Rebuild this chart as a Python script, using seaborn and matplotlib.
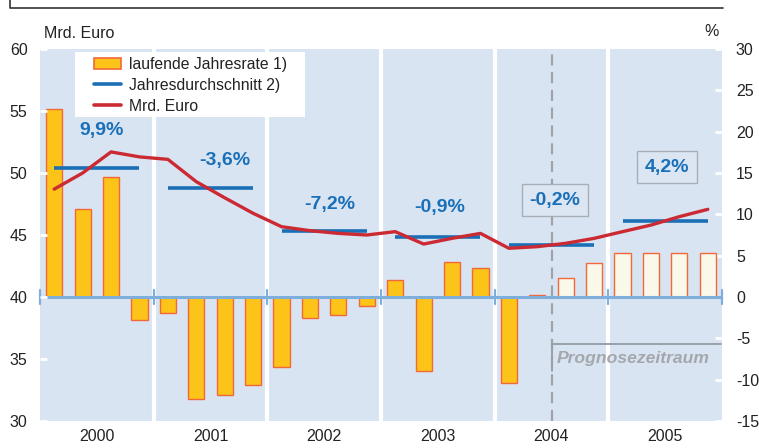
import matplotlib
matplotlib.use("Agg")
import matplotlib.pyplot as plt
import seaborn as sns
import pandas as pd
import numpy as np
from matplotlib.patches import Patch, Rectangle
from matplotlib.lines import Line2D

# ---- data ----
years = ["2000", "2001", "2002", "2003", "2004", "2005"]
rate_pct = [22.7, 10.6, 14.5, -2.8,
            -1.9, -12.3, -11.9, -10.6,
            -8.5, -2.5, -2.2, -1.1,
            2.1, -8.9, 4.2, 3.5,
            -10.4, 0.3, 2.3, 4.1,
            5.3, 5.3, 5.3, 5.3]
mrd_euro = [48.7, 50.0, 51.7, 51.3,
            51.1, 49.3, 48.0, 46.75,
            45.67, 45.35, 45.13, 45.0,
            45.27, 44.27, 44.73, 45.13,
            43.93, 44.06, 44.33, 44.73,
            45.27, 45.8, 46.48, 47.07]
year_avg = [50.43, 48.8, 45.3, 44.87, 44.17, 46.15]
year_change = ["9,9%", "-3,6%", "-7,2%", "-0,9%", "-0,2%", "4,2%"]
n_actual = 18  # quarters before forecast period

df = pd.DataFrame({
    "q": np.arange(len(rate_pct)),
    "pct": rate_pct,
    "mrd": mrd_euro,
    "typ": ["Ist"] * n_actual + ["Prognose"] * (len(rate_pct) - n_actual),
})

sns.set_style("white")
plt.rcParams["font.family"] = ["Liberation Sans", "DejaVu Sans"]
plt.rcParams["axes.unicode_minus"] = False

W, H = 759, 448
fig = plt.figure(figsize=(W / 100, H / 100), dpi=100)
fig.patch.set_facecolor("white")
ax = fig.add_axes([40 / W, 1 - 421 / H, 682 / W, 372 / H])
ax.set_facecolor("#d9e4f3")

# bars (percent scale)
sns.barplot(data=df, x="q", y="pct", hue="typ",
            palette={"Ist": "#fcc419", "Prognose": "#faf8e8"}, saturation=1,
            dodge=False, width=0.57, edgecolor="#f2683a", linewidth=1.0,
            ax=ax, legend=False, zorder=3)
ax.set_ylim(-15, 30)
ax.set_xlim(-0.5, 23.5)

# year separators
for b in [3.5, 7.5, 11.5, 15.5, 19.5]:
    ax.axvline(b, color="white", lw=3, zorder=1)

# forecast dashed line
ax.axvline(17.5, color="#a0a4a8", lw=1.6, ls=(0, (5, 3)), zorder=2)

# zero line with small ticks
ax.axhline(0, color="#7eaedc", lw=2.2, zorder=4)
for b in [-0.5, 3.5, 7.5, 11.5, 15.5, 19.5, 23.5]:
    ax.plot([b, b], [-0.9, 0.9], color="#7eaedc", lw=1.6, zorder=4, clip_on=False)

# forecast bracket
ax.plot([17.5, 17.5, 23.45], [-8.95, -5.68, -5.68], color="#9aa0a6", lw=1.4, zorder=5)
ax.text(20.37, -7.38, "Prognosezeitraum", color="#a4a8ac", fontsize=12.6,
        fontweight="bold", fontstyle="italic", ha="center", va="center", zorder=6)

ax.set_xticks([1.5, 5.5, 9.5, 13.5, 17.5, 21.5])
ax.set_xticklabels(years)
ax.tick_params(axis="x", length=0, pad=6, labelsize=11.5, labelcolor="#222222")
ax.set_xlabel("")
ax.set_ylabel("")
for s in ax.spines.values():
    s.set_visible(False)

# line axis (Mrd. Euro)
ax2 = ax.twinx()
ax2.patch.set_visible(False)
ax2.set_ylim(30, 60)
sns.lineplot(data=df, x="q", y="mrd", color="#cc2a33", lw=2.4, ax=ax2, zorder=5)
for i, avg in enumerate(year_avg):
    ax2.hlines(avg, 4 * i, 4 * i + 3, color="#1a6fb6", lw=2.6, zorder=4)

label_pos = [(1.65, 53.4), (6.0, 51.0), (9.69, 47.5), (13.57, 47.23), (17.62, 47.82), (21.56, 50.48)]
for i, (txt, (x, y)) in enumerate(zip(year_change, label_pos)):
    kw = {}
    if i >= 4:
        kw["bbox"] = dict(boxstyle="square,pad=0.4", facecolor="#dce6f3",
                          edgecolor="#a8aeb6", lw=1.0)
    ax2.text(x, y, txt, color="#1a70b8", fontsize=14, fontweight="bold",
             ha="center", va="center", zorder=6, **kw)

ax2.set_xlim(-0.5, 23.5)
ax2.set_xlabel("")
ax2.set_ylabel("")
for s in ax2.spines.values():
    s.set_visible(False)

# swap tick sides (after twinx, which resets them)
ax.yaxis.tick_right()
ax.set_yticks(range(-15, 31, 5))
ax.tick_params(axis="y", which="both", left=False, labelleft=False,
               right=True, labelright=True, direction="in", length=5, width=2,
               color="white", pad=10, labelsize=11.5, labelcolor="#222222")
ax2.yaxis.tick_left()
ax2.set_yticks(range(30, 61, 5))
ax2.tick_params(axis="y", which="both", right=False, labelright=False,
                left=True, labelleft=True, direction="in", length=5, width=2,
                color="white", pad=9, labelsize=11.5, labelcolor="#222222")

# legend: white box + frameless legend
ax2.add_patch(Rectangle((75 / W, 1 - 117 / H), 230 / W, 65 / H,
                        transform=fig.transFigure, facecolor="white",
                        edgecolor="none", zorder=9))
handles = [Patch(facecolor="#fcc419", edgecolor="#f2683a", lw=1.2),
           Line2D([], [], color="#1a6fb6", lw=2.6),
           Line2D([], [], color="#cc2a33", lw=2.6)]
labels = ["laufende Jahresrate 1)", "Jahresdurchschnitt 2)", "Mrd. Euro"]
leg = ax2.legend(handles, labels, loc="upper left",
                 bbox_to_anchor=(94 / W, 1 - 57 / H), bbox_transform=fig.transFigure,
                 frameon=False, borderaxespad=0, borderpad=0, fontsize=11.3,
                 handlelength=1.7, handletextpad=0.55, labelspacing=0.38)
leg.set_zorder(10)
for t in leg.get_texts():
    t.set_color("#222222")

# axis titles
fig.text(44 / W, 1 - 33 / H, "Mrd. Euro", fontsize=11.5, color="#222222",
         ha="left", va="center")
fig.text(719 / W, 1 - 32 / H, "%", fontsize=11.5, color="#222222",
         ha="right", va="center")

# partial title frame at the top
fig.add_artist(Line2D([10 / W, 10 / W, 723 / W], [1.0, 1 - 8 / H, 1 - 8 / H],
                      transform=fig.transFigure, color="#333333", lw=1.2))

fig.savefig("out.png", dpi=100)
